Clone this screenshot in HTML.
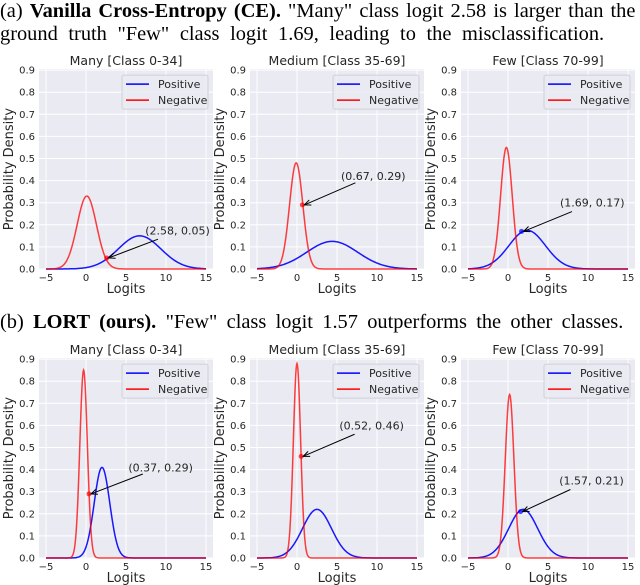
<!DOCTYPE html>
<html><head><meta charset="utf-8"><style>
body{margin:0;background:#fff;width:640px;height:585px;overflow:hidden;position:relative}
.cap{position:absolute;left:0;font-family:"Liberation Serif",serif;font-size:20.4px;white-space:nowrap;color:#000;line-height:23px}
svg{position:absolute;left:0;top:0}
text{font-family:"DejaVu Sans","Liberation Sans",sans-serif;fill:#262626}
</style></head><body>
<div class="cap" style="top:0px"><span style="word-spacing:2px">(a) <b>Vanilla Cross-Entropy (CE).</b> "Many" class logit 2.58 is larger than the</span><br><span style="word-spacing:5.5px">ground truth "Few" class logit 1.69, leading to the misclassification.</span></div>
<div class="cap" style="top:311px;word-spacing:4.2px">(b) <b>LORT (ours).</b> "Few" class logit 1.57 outperforms the other classes.</div>
<svg id="c" width="640" height="585"></svg>
<script>
const titles=["Many [Class 0-34]","Medium [Class 35-69]","Few [Class 70-99]","Many [Class 0-34]","Medium [Class 35-69]","Few [Class 70-99]"];
const negMean=[0.1,-0.1,-0.2,-0.3,0.0,0.2];
const negPeak=[0.33,0.48,0.55,0.85,0.88,0.74];
const posMean=[6.7,4.4,2.4,2.0,2.5,1.9];
const posPeak=[0.15,0.125,0.175,0.41,0.22,0.22];
const ptX=[2.58,0.67,1.69,0.37,0.52,1.57];
const ptY=[0.05,0.29,0.17,0.29,0.46,0.21];
const labX=[7.4,5.5,6.5,5.3,5.3,6.4];
const labY=[0.175,0.42,0.30,0.41,0.60,0.35];
const tailX=[9.0,7.3,8.0,7.1,7.2,7.8];
const tailY=[0.135,0.39,0.26,0.38,0.56,0.31];
const ptColor=["red","red","blue","red","red","blue"];
const xTicks=[-5,0,5,10,15];
const yTicks=[0,0.1,0.2,0.3,0.4,0.5,0.6,0.7,0.8,0.9];
const NS="http://www.w3.org/2000/svg";
const svg=document.getElementById('c');
function el(t,a,p){const e=document.createElementNS(NS,t);for(const k in a)e.setAttribute(k,a[k]);(p||svg).appendChild(e);return e;}
const panX=[46,257,468],panY=[269,558];
function pdf(x,m,pk){const sd=0.39894/pk;return pk*Math.exp(-0.5*((x-m)/sd)**2);}
for(let i=0;i<6;i++){
  const x0=panX[i%3],yb=panY[Math.floor(i/3)];
  const X=v=>x0+(v+5)*8, Y=v=>yb-v*221;
  const g=el('g',{});
  
  
  const L=X(-5)-7,R=X(15)+7,T=Y(0.9)-1;
  const bg=el('rect',{x:L,y:T,width:R-L,height:yb-T,fill:'#eaeaf2'},g);
  
  yTicks.forEach(v=>{el('line',{x1:L,x2:R,y1:Y(v),y2:Y(v),stroke:'#fff','stroke-width':1},g);
    const t=el('text',{x:L-4,y:Y(v)+3.5,'font-size':10,'text-anchor':'end'},g);t.textContent=v.toFixed(1);
    });
  xTicks.forEach(v=>{el('line',{x1:X(v),x2:X(v),y1:T,y2:yb,stroke:'#fff','stroke-width':1},g);
    const t=el('text',{x:X(v),y:yb+12,'font-size':10,'text-anchor':'middle'},g);t.textContent=v<0?'\u2212'+(-v):v;
    });
  const tt=el('text',{x:(L+R)/2,y:T-4,'font-size':12.5,'text-anchor':'middle'},g);tt.textContent=titles[i];
  
  const xl=el('text',{x:(L+R)/2,y:yb+24,'font-size':13,'text-anchor':'middle'},g);xl.textContent='Logits';
  
  const yl=el('text',{x:0,y:0,'font-size':13,'text-anchor':'middle',transform:`translate(${L-26},${(T+yb)/2}) rotate(-90)`},g);yl.textContent='Probability Density';
  
  let pp='',pn='';
  for(let k=0;k<=400;k++){const v=-5+k*0.05;pp+=(k?'L':'M')+X(v).toFixed(1)+','+Y(pdf(v,posMean[i],posPeak[i])).toFixed(1);pn+=(k?'L':'M')+X(v).toFixed(1)+','+Y(pdf(v,negMean[i],negPeak[i])).toFixed(1);}
  const lp=el('path',{d:pp,fill:'none',stroke:'#0000ff','stroke-width':1.5,'stroke-opacity':0.9},g);
  
  const ln=el('path',{d:pn,fill:'none',stroke:'#ff0000','stroke-width':1.5,'stroke-opacity':0.75},g);
  
  const pt=el('circle',{cx:X(ptX[i]),cy:Y(ptY[i]),r:2.5,fill:ptColor[i],'fill-opacity':0.7},g);
  
  const ax=X(ptX[i]),ay=Y(ptY[i]),bx=X(tailX[i]),by=Y(tailY[i]);
  el('line',{x1:bx,y1:by,x2:ax+2,y2:ay,stroke:'#000','stroke-width':1},g);
  const a=Math.atan2(by-ay,bx-ax);
  const h=(d)=>`${ax+2+7*Math.cos(a+d)},${ay+7*Math.sin(a+d)}`;
  el('polyline',{points:`${h(0.4)} ${ax+2},${ay} ${h(-0.4)}`,fill:'none',stroke:'#000','stroke-width':1},g);
  const lt=el('text',{x:X(labX[i]),y:Y(labY[i])+4,'font-size':11},g);lt.textContent=`(${ptX[i].toFixed(2)}, ${ptY[i].toFixed(2)})`;
  
  const lg=el('g',{},g);
  el('rect',{x:R-91,y:T+6,width:86,height:34,rx:2,fill:'#eaeaf2','fill-opacity':0.85,stroke:'#d0d0d8'},lg);
  [['Positive','#0000ff'],['Negative','#ff0000']].forEach((e,j)=>{const yy=T+15+j*16;
    el('line',{x1:R-87,x2:R-64,y1:yy,y2:yy,stroke:e[1],'stroke-width':1.5},lg);
    const t=el('text',{x:R-55,y:yy+4,'font-size':11},lg);t.textContent=e[0];
    });
}
</script>
</body></html>
